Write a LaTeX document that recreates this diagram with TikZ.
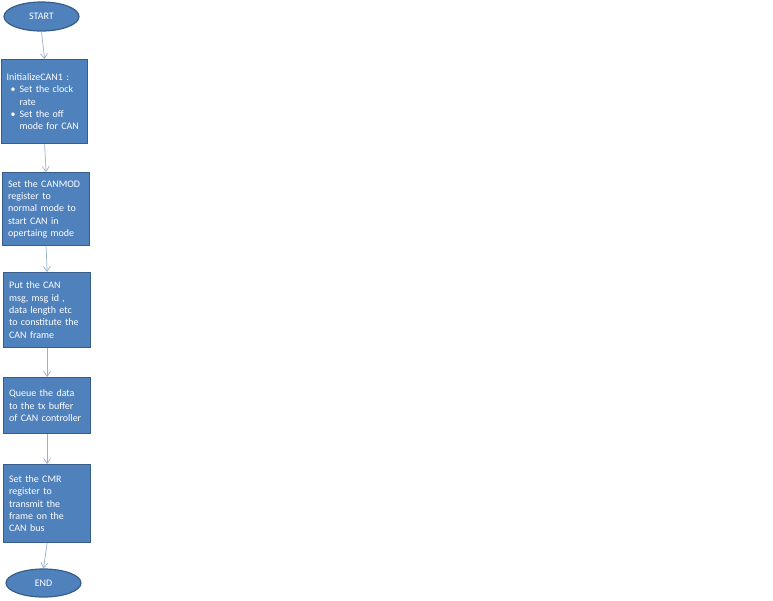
\documentclass[tikz,border=0pt]{standalone}
\usepackage{fontspec}
\setmainfont{Carlito}
\usetikzlibrary{shapes.geometric,arrows.meta,positioning}
\definecolor{boxfill}{HTML}{4F81BD}
\definecolor{boxline}{HTML}{385D8A}
\definecolor{arrowcol}{HTML}{9AAFC9}
\tikzset{
  box/.style={draw=boxline, fill=boxfill, line width=1.2pt, text=white,
    align=left, inner sep=0pt, anchor=north west,
    font=\fontsize{10}{12.3}\selectfont},
  term/.style={ellipse, draw=boxline, fill=boxfill, line width=1.2pt, text=white,
    inner sep=0pt, font=\fontsize{10}{12.3}\selectfont},
  flow/.style={draw=arrowcol, line width=0.7pt, -{Straight Barb[length=5pt,width=7pt]}}
}
\begin{document}
\begin{tikzpicture}[x=1pt,y=-1pt]
\useasboundingbox (0,0) rectangle (773,600);
\node[term, minimum width=75pt, minimum height=29pt] (start) at (41.5,16.5) {START};
\node[box, minimum width=86pt, minimum height=84pt, text width=76pt] (b1) at (1,59)
  {InitializeCAN1 :\\
   \makebox[13pt][l]{\hspace{4pt}\textbullet}Set the clock\\
   \hspace*{13pt}rate\\
   \makebox[13pt][l]{\hspace{4pt}\textbullet}Set the off\\
   \hspace*{13pt}mode for CAN};
\node[box, minimum width=87pt, minimum height=73pt, text width=76pt] (b2) at (2,172)
  {Set the CANMOD\\register to\\normal mode to\\start CAN in\\opertaing mode};
\node[box, minimum width=87pt, minimum height=75pt, text width=76pt] (b3) at (3,272)
  {Put the CAN\\msg, msg id ,\\data length etc\\to constitute the\\CAN frame};
\node[box, minimum width=87pt, minimum height=56pt, text width=76pt] (b4) at (3,377)
  {Queue the data\\to the tx buffer\\of CAN controller};
\node[box, minimum width=87pt, minimum height=78pt, text width=76pt] (b5) at (3,464)
  {Set the CMR\\register to\\transmit the\\frame on the\\CAN bus};
\node[term, minimum width=75pt, minimum height=28pt] (end) at (43.5,583) {END};
\draw[flow] (start.south) -- (b1.north);
\draw[flow] (b1.south) -- (b2.north);
\draw[flow] (b2.south) -- (b3.north);
\draw[flow] (b3.south) -- (b4.north);
\draw[flow] (b4.south) -- (b5.north);
\draw[flow] (b5.south) -- (end.north);
\end{tikzpicture}
\end{document}
